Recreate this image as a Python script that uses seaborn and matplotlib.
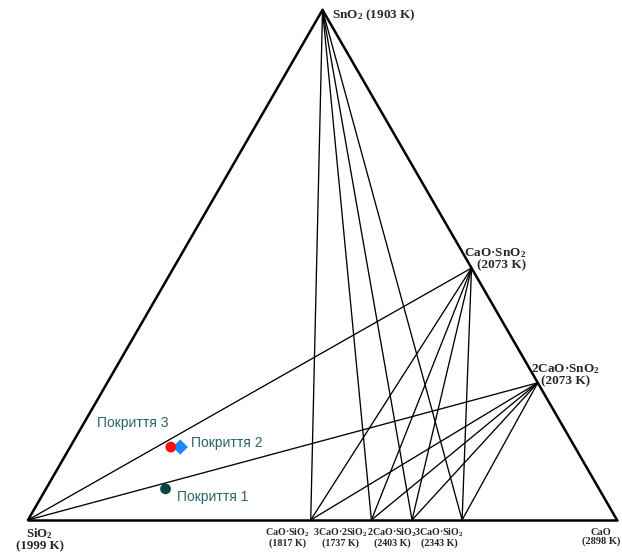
import numpy as np
import pandas as pd
import matplotlib
matplotlib.use("Agg")
import matplotlib.pyplot as plt
import seaborn as sns

# phases of the SiO2-CaO-SnO2 system: mole fractions of CaO and SnO2
phases = ["SiO2", "CaO", "SnO2", "CaO·SiO2", "3CaO·2SiO2", "2CaO·SiO2",
          "3CaO·SiO2", "CaO·SnO2", "2CaO·SnO2"]
x_cao = [0.0, 1.0, 0.0, 0.480, 0.583, 0.652, 0.737, 0.506, 0.731]
x_sno2 = [0.0, 0.0, 1.0, 0.0, 0.0, 0.0, 0.0, 0.494, 0.269]
melt_K = [1999, 2898, 1903, 1817, 1737, 2403, 2343, 2073, 2073]

edges = [("SiO2", "CaO"), ("CaO", "SnO2"), ("SnO2", "SiO2")]
ties = [("SnO2", "CaO·SiO2"), ("SnO2", "3CaO·2SiO2"), ("SnO2", "2CaO·SiO2"),
        ("SnO2", "3CaO·SiO2"),
        ("CaO·SnO2", "SiO2"), ("CaO·SnO2", "CaO·SiO2"), ("CaO·SnO2", "3CaO·2SiO2"),
        ("CaO·SnO2", "2CaO·SiO2"), ("CaO·SnO2", "3CaO·SiO2"),
        ("2CaO·SnO2", "SiO2"), ("2CaO·SnO2", "CaO·SiO2"), ("2CaO·SnO2", "3CaO·2SiO2"),
        ("2CaO·SnO2", "2CaO·SiO2"), ("2CaO·SnO2", "3CaO·SiO2")]

coatings = ["Покриття 1", "Покриття 2", "Покриття 3"]
coat_cao = [0.203, 0.187, 0.171]
coat_sno2 = [0.061, 0.143, 0.143]


def tern(c, s):
    c = np.asarray(c, dtype=float)
    s = np.asarray(s, dtype=float)
    return c + s / 2, s * np.sqrt(3) / 2


px, py = tern(x_cao, x_sno2)
pos = {p: (px[i], py[i]) for i, p in enumerate(phases)}


def seg_frame(pairs):
    rows = []
    for k, (a, b) in enumerate(pairs):
        rows.append({"line": k, "x": pos[a][0], "y": pos[a][1]})
        rows.append({"line": k, "x": pos[b][0], "y": pos[b][1]})
    return pd.DataFrame(rows)


cx, cy = tern(coat_cao, coat_sno2)
coat_df = pd.DataFrame({"coating": coatings, "x": cx, "y": cy})

sns.set_theme(style="white")
plt.rcParams["mathtext.fontset"] = "custom"
plt.rcParams["mathtext.rm"] = "Liberation Serif:bold"
plt.rcParams["mathtext.it"] = "Liberation Serif:bold"
plt.rcParams["mathtext.bf"] = "Liberation Serif:bold"

fig = plt.figure(figsize=(6.22, 5.54), dpi=100)
ax = fig.add_axes([0, 0, 1, 1])
ax.set_xlim(-28 / 589, 594 / 589)
ax.set_ylim(-34 / 589, 520 / 589)
ax.axis("off")

sns.lineplot(data=seg_frame(ties), x="x", y="y", units="line", estimator=None,
             sort=False, color="black", linewidth=0.95, ax=ax)
sns.lineplot(data=seg_frame(edges), x="x", y="y", units="line", estimator=None,
             sort=False, color="black", linewidth=1.8, ax=ax)

sns.scatterplot(data=coat_df, x="x", y="y", hue="coating", style="coating",
                palette={"Покриття 1": "#0f4343", "Покриття 2": "#1a86ff",
                         "Покриття 3": "#ff1010"},
                markers={"Покриття 1": "o", "Покриття 2": "D", "Покриття 3": "o"},
                s=60, linewidth=0, legend=False, zorder=5, ax=ax)


def fmt(name):
    return name.replace("SiO2", "SiO$_2$").replace("SnO2", "SnO$_2$")


# label placement: offset in pixels, alignment, font size
lab = {
    "SnO2": ((10, -5), "left", "left", 9.5),
    "SiO2": ((12, -19), "center", "center", 9.3),
    "CaO·SiO2": ((-46, -17), "left", "center", 7.2),
    "3CaO·2SiO2": ((-58, -17), "left", "center", 7.2),
    "2CaO·SiO2": ((-45, -17), "left", "center", 7.2),
    "3CaO·SiO2": ((-48, -17), "left", "center", 7.2),
    "CaO": ((-16, -17), "center", "center", 7.5),
    "CaO·SnO2": ((55, 9), "right", "right", 9.5),
    "2CaO·SnO2": ((28, 8), "center", "center", 9.5),
}
for i, p in enumerate(phases):
    (dx, dy), ha, ma, fs = lab[p]
    if p == "SnO2":
        txt = fmt(p) + " (%d K)" % melt_K[i]
    else:
        txt = fmt(p) + "\n(%d K)" % melt_K[i]
    ax.annotate(txt, xy=pos[p], xytext=(dx, dy), textcoords="offset pixels",
                ha=ha, va="center", multialignment=ma, fontsize=fs,
                family="Liberation Serif", fontweight="bold", linespacing=0.95)

coat_lab = {
    "Покриття 1": (11, -8),
    "Покриття 2": (11, 4),
    "Покриття 3": (-74, 24),
}
for c, x, y in zip(coatings, cx, cy):
    ax.annotate(c, xy=(x, y), xytext=coat_lab[c], textcoords="offset pixels",
                ha="left", va="center", fontsize=10, family="Liberation Sans",
                color="#2a6464")

fig.savefig("out.png", dpi=100)
